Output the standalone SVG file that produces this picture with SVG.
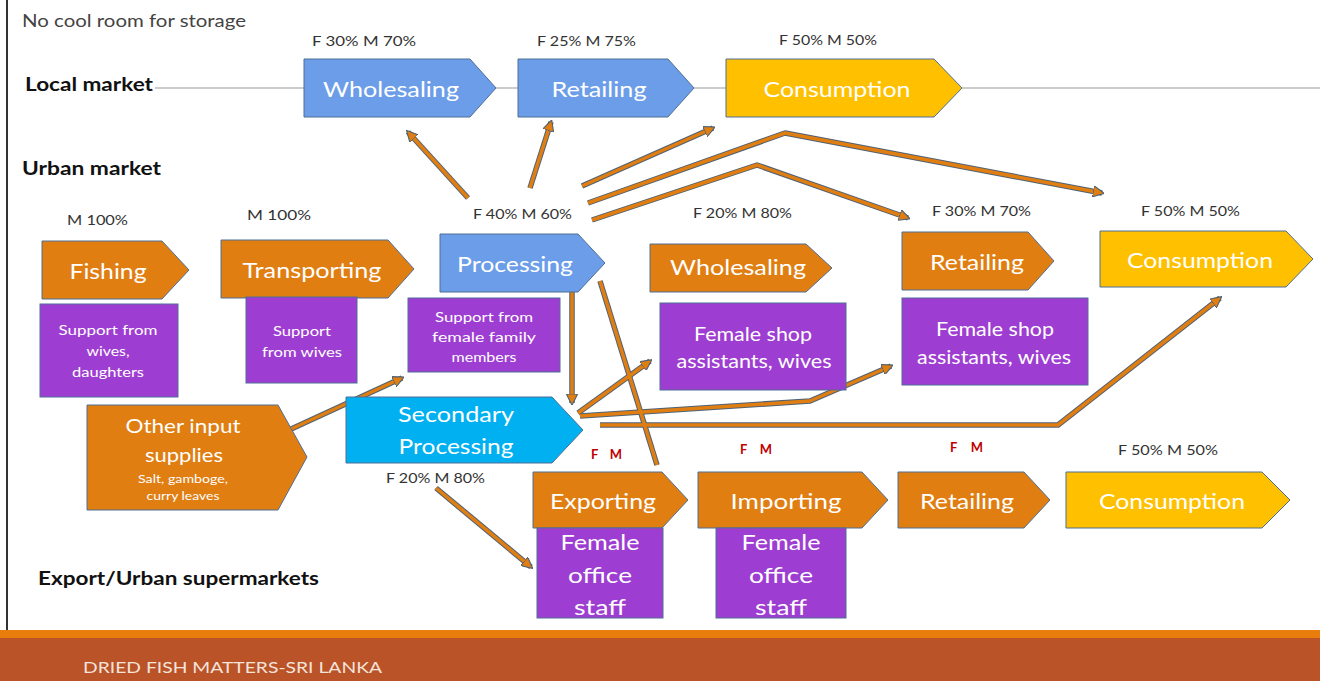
<svg xmlns="http://www.w3.org/2000/svg" width="1320" height="681" viewBox="0 0 1320 681">
<style>
.o{fill:#E07E12;stroke:#4F6F95;stroke-width:1}
.b{fill:#6C9DE8;stroke:#4F6F95;stroke-width:1}
.c{fill:#00B0F0;stroke:#4F6F95;stroke-width:1}
.y{fill:#FFC000;stroke:#4F6F95;stroke-width:1}
.p{fill:#9E3DD2;stroke:#4F6F95;stroke-width:1}
.t{font-family:Lato,"Open Sans",sans-serif;fill:#fff;text-anchor:middle}
.L{font-size:22px}
.s{font-size:12.5px}
.m{font-size:19px}
.pct{font-family:Lato,"Open Sans",sans-serif;font-size:13px;fill:#333}
.fm{font-family:Lato,"Open Sans",sans-serif;font-size:13px;font-weight:bold;fill:#C00000}
.row{font-family:Lato,"Open Sans",sans-serif;font-size:18px;font-weight:bold;fill:#111}
.k{fill:none;stroke:#4F6275;stroke-width:5.5;stroke-linejoin:round}
.a{fill:none;stroke:#E07E12;stroke-width:3.5;stroke-linejoin:round}
</style>
<defs>
<marker id="ah" viewBox="0 0 10 10" refX="8" refY="5" markerWidth="3.2" markerHeight="3.2" orient="auto">
<path d="M0,0 L10,5 L0,10 z" fill="#E07E12" stroke="#4F6275" stroke-width="1"/>
</marker>
</defs>
<rect width="1320" height="681" fill="#fff"/>
<line x1="7" y1="0" x2="7" y2="631" stroke="#333" stroke-width="2"/>
<line x1="155" y1="88" x2="1320" y2="88" stroke="#CCCCCC" stroke-width="2"/>
<g id="footer">
<rect x="0" y="630" width="1320" height="9" fill="#E87D0C"/>
<rect x="0" y="638" width="1320" height="43" fill="#BA5327"/>
<text x="83" y="673" font-family="Lato,'Open Sans',sans-serif" font-size="15.5" fill="#F4E4DC" textLength="299" lengthAdjust="spacingAndGlyphs">DRIED FISH MATTERS-SRI LANKA</text>
</g>
<g id="labels">
<text x="22" y="27" font-family="Lato,'Open Sans',sans-serif" font-size="16.5" fill="#444" textLength="224" lengthAdjust="spacingAndGlyphs">No cool room for storage</text>
<text class="row" x="25" y="91" textLength="128" lengthAdjust="spacingAndGlyphs">Local market</text>
<text class="row" x="22" y="175" textLength="139" lengthAdjust="spacingAndGlyphs">Urban market</text>
<text class="row" x="38" y="585" textLength="281" lengthAdjust="spacingAndGlyphs">Export/Urban supermarkets</text>
<text class="pct" x="312" y="46" textLength="104" lengthAdjust="spacingAndGlyphs">F 30% M 70%</text>
<text class="pct" x="537" y="46" textLength="99" lengthAdjust="spacingAndGlyphs">F 25% M 75%</text>
<text class="pct" x="779" y="45" textLength="98" lengthAdjust="spacingAndGlyphs">F 50% M 50%</text>
<text class="pct" x="67" y="225" textLength="61" lengthAdjust="spacingAndGlyphs">M 100%</text>
<text class="pct" x="247" y="220" textLength="64" lengthAdjust="spacingAndGlyphs">M 100%</text>
<text class="pct" x="473" y="219" textLength="99" lengthAdjust="spacingAndGlyphs">F 40% M 60%</text>
<text class="pct" x="693" y="218" textLength="99" lengthAdjust="spacingAndGlyphs">F 20% M 80%</text>
<text class="pct" x="932" y="216" textLength="99" lengthAdjust="spacingAndGlyphs">F 30% M 70%</text>
<text class="pct" x="1141" y="216" textLength="99" lengthAdjust="spacingAndGlyphs">F 50% M 50%</text>
<text class="pct" x="386" y="483" textLength="99" lengthAdjust="spacingAndGlyphs">F 20% M 80%</text>
<text class="pct" x="1118" y="455" textLength="100" lengthAdjust="spacingAndGlyphs">F 50% M 50%</text>
<text class="fm" x="591" y="459" textLength="31" lengthAdjust="spacing">F  M</text>
<text class="fm" x="740" y="454" textLength="32" lengthAdjust="spacing">F  M</text>
<text class="fm" x="950" y="452" textLength="33" lengthAdjust="spacing">F  M</text>
</g>
<g id="connectors">
<g class="k">
<path d="M468,198 L408,132"/>
<path d="M530,188 L551,122"/>
<path d="M582,186 L713,128"/>
<path d="M588,203 L785,133 L1102,193"/>
<path d="M592,220 L757,165 L908,218"/>
<path d="M572,289 L572,403"/>
<path d="M600,281 L657,465"/>
<path d="M578,413 L650,361"/>
<path d="M580,416 L810,401 L891,366"/>
<path d="M600,425 L1058,425 L1220,298"/>
<path d="M289,430 L402,378"/>
<path d="M436,488 L531,567"/>
</g>
<g class="a">
<path d="M468,198 L408,132" marker-end="url(#ah)"/>
<path d="M530,188 L551,122" marker-end="url(#ah)"/>
<path d="M582,186 L713,128" marker-end="url(#ah)"/>
<path d="M588,203 L785,133 L1102,193" marker-end="url(#ah)"/>
<path d="M592,220 L757,165 L908,218" marker-end="url(#ah)"/>
<path d="M572,289 L572,403" marker-end="url(#ah)"/>
<path d="M600,281 L657,465"/>
<path d="M578,413 L650,361" marker-end="url(#ah)"/>
<path d="M580,416 L810,401 L891,366" marker-end="url(#ah)"/>
<path d="M600,425 L1058,425 L1220,298" marker-end="url(#ah)"/>
<path d="M289,430 L402,378" marker-end="url(#ah)"/>
<path d="M436,488 L531,567" marker-end="url(#ah)"/>
</g>
</g>
<g id="local-wholesaling"><path class="b" d="M304,59 H470 L496,88 L470,117 H304 Z"/><text class="t L" x="391" y="97" textLength="136" lengthAdjust="spacingAndGlyphs">Wholesaling</text></g>
<g id="local-retailing"><path class="b" d="M518,59 H668 L694,88 L668,117 H518 Z"/><text class="t L" x="599" y="97" textLength="95" lengthAdjust="spacingAndGlyphs">Retailing</text></g>
<g id="local-consumption"><path class="y" d="M726,59 H934 L962,88 L934,117 H726 Z"/><text class="t L" x="837" y="97" textLength="147" lengthAdjust="spacingAndGlyphs">Consumption</text></g>

<g id="fishing"><path class="o" d="M42,241 H162 L189,270 L162,299 H42 Z"/><text class="t L" x="108" y="279" textLength="77" lengthAdjust="spacingAndGlyphs">Fishing</text></g>
<g id="fishing-support"><rect class="p" x="40" y="304" width="138" height="93"/><text class="t s" x="108" y="335" textLength="99" lengthAdjust="spacingAndGlyphs">Support from</text><text class="t s" x="108" y="356" textLength="43" lengthAdjust="spacingAndGlyphs">wives,</text><text class="t s" x="108" y="377" textLength="72" lengthAdjust="spacingAndGlyphs">daughters</text></g>
<g id="transporting"><path class="o" d="M221,240 H388 L414,269 L388,298 H221 Z"/><text class="t L" x="312" y="278" textLength="139" lengthAdjust="spacingAndGlyphs">Transporting</text></g>
<g id="transporting-support"><rect class="p" x="246" y="297" width="111" height="86"/><text class="t s" x="302" y="336" textLength="58" lengthAdjust="spacingAndGlyphs">Support</text><text class="t s" x="302" y="357" textLength="80" lengthAdjust="spacingAndGlyphs">from wives</text></g>
<g id="processing"><path class="b" d="M440,234 H578 L605,263 L578,292 H440 Z"/><text class="t L" x="515" y="272" textLength="116" lengthAdjust="spacingAndGlyphs">Processing</text></g>
<g id="processing-support"><rect class="p" x="408" y="298" width="152" height="74"/><text class="t s" x="484" y="322" textLength="98" lengthAdjust="spacingAndGlyphs">Support from</text><text class="t s" x="484" y="342" textLength="104" lengthAdjust="spacingAndGlyphs">female family</text><text class="t s" x="484" y="362" textLength="65" lengthAdjust="spacingAndGlyphs">members</text></g>
<g id="urban-wholesaling"><path class="o" d="M650,244 H806 L832,268 L806,292 H650 Z"/><text class="t L" x="738" y="275" textLength="136" lengthAdjust="spacingAndGlyphs">Wholesaling</text></g>
<g id="wholesaling-support"><rect class="p" x="660" y="303" width="186" height="87"/><text class="t m" x="753" y="341" textLength="118" lengthAdjust="spacingAndGlyphs">Female shop</text><text class="t m" x="754" y="368" textLength="155" lengthAdjust="spacingAndGlyphs">assistants, wives</text></g>
<g id="urban-retailing"><path class="o" d="M902,232 H1028 L1054,261 L1028,290 H902 Z"/><text class="t L" x="977" y="270" textLength="94" lengthAdjust="spacingAndGlyphs">Retailing</text></g>
<g id="retailing-support"><rect class="p" x="902" y="298" width="186" height="87"/><text class="t m" x="995" y="336" textLength="118" lengthAdjust="spacingAndGlyphs">Female shop</text><text class="t m" x="994" y="364" textLength="154" lengthAdjust="spacingAndGlyphs">assistants, wives</text></g>
<g id="urban-consumption"><path class="y" d="M1100,231 H1286 L1313,259 L1286,287 H1100 Z"/><text class="t L" x="1200" y="268" textLength="146" lengthAdjust="spacingAndGlyphs">Consumption</text></g>
<g id="other-inputs"><path class="o" d="M87,405 H278 L307,457 L278,510 H87 Z"/><text class="t" font-size="20" x="183" y="433" textLength="115" lengthAdjust="spacingAndGlyphs">Other input</text><text class="t" font-size="20" x="184" y="462" textLength="78" lengthAdjust="spacingAndGlyphs">supplies</text><text class="t" font-size="12" x="183" y="483" textLength="90" lengthAdjust="spacingAndGlyphs">Salt, gamboge,</text><text class="t" font-size="12" x="183" y="500" textLength="73" lengthAdjust="spacingAndGlyphs">curry leaves</text></g>
<g id="secondary-processing"><path class="c" d="M346,397 H552 L583,430 L552,463 H346 Z"/><text class="t L" x="456" y="422" textLength="116" lengthAdjust="spacingAndGlyphs">Secondary</text><text class="t L" x="456" y="454" textLength="115" lengthAdjust="spacingAndGlyphs">Processing</text></g>

<g id="exporting"><path class="o" d="M533,472 H662 L688,500 L662,528 H533 Z"/><text class="t L" x="603" y="509" textLength="106" lengthAdjust="spacingAndGlyphs">Exporting</text></g>
<g id="exporting-staff"><rect class="p" x="537" y="528" width="126" height="90"/><text class="t L" x="600" y="550" textLength="79" lengthAdjust="spacingAndGlyphs">Female</text><text class="t L" x="600" y="583" textLength="64" lengthAdjust="spacingAndGlyphs">office</text><text class="t L" x="600" y="615" textLength="52" lengthAdjust="spacingAndGlyphs">staff</text></g>
<g id="importing"><path class="o" d="M698,472 H862 L888,500 L862,528 H698 Z"/><text class="t L" x="786" y="509" textLength="111" lengthAdjust="spacingAndGlyphs">Importing</text></g>
<g id="importing-staff"><rect class="p" x="716" y="528" width="130" height="90"/><text class="t L" x="781" y="550" textLength="79" lengthAdjust="spacingAndGlyphs">Female</text><text class="t L" x="781" y="583" textLength="64" lengthAdjust="spacingAndGlyphs">office</text><text class="t L" x="781" y="615" textLength="52" lengthAdjust="spacingAndGlyphs">staff</text></g>
<g id="export-retailing"><path class="o" d="M898,472 H1024 L1050,500 L1024,528 H898 Z"/><text class="t L" x="967" y="509" textLength="94" lengthAdjust="spacingAndGlyphs">Retailing</text></g>
<g id="export-consumption"><path class="y" d="M1066,472 H1262 L1290,500 L1262,528 H1066 Z"/><text class="t L" x="1172" y="509" textLength="146" lengthAdjust="spacingAndGlyphs">Consumption</text></g>
</svg>
